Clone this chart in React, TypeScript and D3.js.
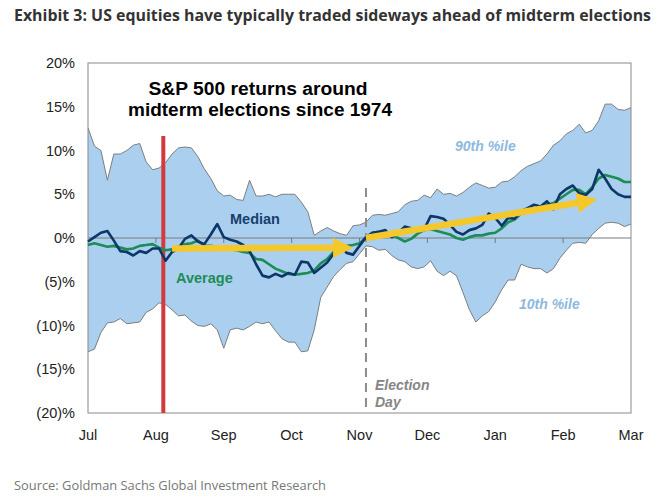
import React from "react";
import * as d3 from "d3";

// Trading-day index (0 = start of July, 21 trading days per month), sampled every 2 days
const STEP_DAYS = 2;
const months = ["Jul", "Aug", "Sep", "Oct", "Nov", "Dec", "Jan", "Feb", "Mar"];
const daysPerMonth = 21;
const yTickValues = [20, 15, 10, 5, 0, -5, -10, -15, -20];

const pct90 = [
  12.6, 10.5, 10.0, 6.6, 9.6, 9.6, 10.0, 10.6, 10.8, 8.7,
  7.8, 8.0, 8.6, 9.6, 10.3, 10.4, 10.3, 9.3, 7.9, 6.8,
  5.4, 4.8, 4.9, 4.4, 4.3, 6.6, 4.8, 4.8, 5.0, 4.7,
  5.0, 5.0, 5.0, 4.1, 3.0, 0.3, 0.8, 1.2, 0.8, 0.5,
  0.3, 1.4, 1.5, 1.8, 2.6, 2.7, 2.6, 2.8, 3.0, 3.8,
  4.2, 4.3, 4.9, 4.6, 5.6, 5.0, 5.1, 4.8, 5.2, 5.8,
  6.3, 6.0, 5.7, 5.8, 6.4, 6.5, 7.0, 7.7, 8.2, 8.5,
  8.8, 9.6, 10.6, 11.1, 11.9, 12.3, 13.0, 12.0, 12.3, 13.4,
  15.3, 15.3, 14.7, 14.6, 14.9,
];

const pct10 = [
  -13.0, -12.7, -10.8, -9.7, -9.6, -9.2, -9.8, -9.7, -9.6, -8.5,
  -8.1, -7.4, -7.6, -8.2, -8.9, -8.8, -9.5, -10.0, -10.1, -9.8,
  -10.5, -12.6, -10.5, -10.3, -10.5, -10.1, -9.6, -9.8, -9.6, -10.6,
  -11.5, -11.9, -11.9, -13.0, -12.9, -10.5, -6.8, -5.6, -4.4, -3.6,
  -2.9, -2.7, -1.8, -0.9, -1.0, -1.4, -1.3, -2.0, -2.5, -2.7,
  -3.3, -3.5, -3.3, -2.6, -3.8, -4.3, -3.8, -4.3, -6.2, -8.2,
  -9.6, -8.9, -8.4, -7.3, -5.9, -4.8, -4.8, -3.0, -3.3, -3.5,
  -3.5, -4.0, -3.5, -2.3, -1.4, -0.6, -0.5, -0.6, 0.4, 1.1,
  1.7, 1.8, 1.7, 1.3, 1.6,
];

const median = [
  -0.4, 0.1, 0.6, 0.8, -0.3, -1.5, -1.6, -2.0, -1.5, -1.7,
  -1.2, -1.2, -2.6, -1.6, -1.2, -0.1, 0.3, -0.4, -0.7, 0.4,
  1.6, 0.1, -0.2, -0.4, -0.8, -1.5, -3.0, -4.3, -4.5, -4.1,
  -4.4, -4.0, -4.2, -2.7, -2.8, -4.0, -3.4, -2.8, -1.8, -0.8,
  -1.7, -1.9, -0.9, 0.1, 0.6, 0.7, 0.9, 0.1, 0.6, 1.3,
  1.1, 0.9, 1.0, 2.5, 2.4, 2.2, 1.5, 0.7, 0.4, 0.9,
  1.1, 1.5, 2.8, 2.3, 1.4, 2.3, 2.2, 3.1, 3.4, 3.8,
  3.6, 4.2, 3.3, 5.0, 5.6, 6.0, 5.1, 4.9, 5.6, 7.8,
  6.8, 5.6, 5.0, 4.7, 4.7,
];

const average = [
  -0.8, -0.6, -0.8, -1.0, -0.9, -1.1, -1.3, -1.2, -0.9, -0.8,
  -0.7, -1.1, -1.4, -1.3, -1.0, -0.7, -0.6, -0.3, -0.9, -0.9,
  -1.0, -1.3, -1.3, -1.4, -1.6, -1.7, -2.4, -2.5, -3.0, -3.5,
  -3.8, -4.1, -4.2, -4.1, -4.0, -3.7, -2.9, -2.4, -1.6, -1.1,
  -0.9, -0.8, -0.6, 0.0, 0.6, 0.7, 0.6, 0.3, 0.0, -0.4,
  -0.1, 0.5, 0.9, 1.0, 0.8, 0.6, 0.4, 0.0, -0.2, 0.1,
  0.3, 0.3, 0.5, 0.6, 1.1, 1.8, 2.1, 2.8, 3.0, 3.2,
  3.4, 3.8, 4.0, 4.5, 5.0, 5.5, 5.5, 5.0, 5.8, 6.8,
  7.2, 7.0, 6.8, 6.4, 6.4,
];

// Annotations (trading-day index, % return)
const augustMarkerDay = 23.3;
const electionDay = 86;
const arrowPre = [[26, -1.2], [82, -1.1]];
const arrowPost = [[86, 0.0], [157.5, 4.4]];

const W = 669;
const H = 499;
const M = { left: 88, right: 631, top: 63, bottom: 413 };

const TEXT_FONT = "'Liberation Sans', Arial, sans-serif";
const TITLE_FONT = "'Open Sans', 'Noto Sans', sans-serif";

function fmtPct(v: number) {
  return v < 0 ? `(${Math.abs(v)})%` : `${v}%`;
}

function Arrow({ pts, x, y }: { pts: number[][]; x: any; y: any }) {
  const x1 = x(pts[0][0]);
  const y1 = y(pts[0][1]);
  const x2 = x(pts[1][0]);
  const y2 = y(pts[1][1]);
  const ang = Math.atan2(y2 - y1, x2 - x1);
  const headLen = 20;
  const headHalf = 10;
  const bx = x2 - headLen * Math.cos(ang);
  const by = y2 - headLen * Math.sin(ang);
  const nx = -Math.sin(ang);
  const ny = Math.cos(ang);
  const head = `M${x2},${y2} L${bx + nx * headHalf},${by + ny * headHalf} L${bx - nx * headHalf},${by - ny * headHalf} Z`;
  return (
    <g>
      <line x1={x1} y1={y1} x2={bx + 2 * Math.cos(ang)} y2={by + 2 * Math.sin(ang)} stroke="#F4C72A" strokeWidth={6.5} />
      <path d={head} fill="#F4C72A" />
    </g>
  );
}

export default function App() {
  const x = d3.scaleLinear().domain([0, daysPerMonth * (months.length - 1)]).range([M.left, M.right]);
  const y = d3.scaleLinear().domain([-20, 20]).range([M.bottom, M.top]);
  const dayOf = (i: number) => i * STEP_DAYS;

  const area = d3
    .area<number>()
    .x((_, i) => x(dayOf(i)))
    .y0((_, i) => y(pct10[i]))
    .y1((d) => y(d));
  const line = d3
    .line<number>()
    .x((_, i) => x(dayOf(i)))
    .y((d) => y(d));

  const monthDays = months.map((_, i) => i * daysPerMonth);

  return (
    <svg
      width={W}
      height={H}
      style={{ position: "absolute", left: 0, top: 0, background: "#fff" }}
    >
      <rect x={0} y={0} width={W} height={H} fill="#fff" />
      <text
        x={14}
        y={21}
        fontFamily={TITLE_FONT}
        fontWeight={700}
        fontSize={15.5}
        fill="#333"
        textLength={637}
        lengthAdjust="spacingAndGlyphs"
      >
        Exhibit 3: US equities have typically traded sideways ahead of midterm elections
      </text>

      {/* band */}
      <path d={area(pct90) || ""} fill="#ABD0EF" />
      <path d={line(pct90) || ""} fill="none" stroke="#7d7d7d" strokeWidth={1} />
      <path d={line(pct10) || ""} fill="none" stroke="#7d7d7d" strokeWidth={1} />

      {/* zero line + ticks */}
      <line x1={M.left} x2={M.right} y1={y(0)} y2={y(0)} stroke="#7a7a7a" strokeWidth={1} />
      {monthDays.slice(1, -1).map((d) => (
        <line key={d} x1={x(d)} x2={x(d)} y1={y(0)} y2={y(0) + 5} stroke="#7a7a7a" strokeWidth={1} />
      ))}

      {/* frame */}
      <rect
        x={M.left}
        y={M.top}
        width={M.right - M.left}
        height={M.bottom - M.top}
        fill="none"
        stroke="#8a8a8a"
        strokeWidth={1}
      />

      {/* August marker */}
      <line
        x1={x(augustMarkerDay)}
        x2={x(augustMarkerDay)}
        y1={136}
        y2={M.bottom}
        stroke="#D23A3E"
        strokeWidth={4}
      />

      {/* election day */}
      <line
        x1={x(electionDay)}
        x2={x(electionDay)}
        y1={188}
        y2={M.bottom}
        stroke="#8c8c8c"
        strokeWidth={2}
        strokeDasharray="9,6"
      />
      <text x={375} y={390} fontFamily={TEXT_FONT} fontStyle="italic" fontWeight={700} fontSize={14} fill="#858585">
        Election
      </text>
      <text x={375} y={407} fontFamily={TEXT_FONT} fontStyle="italic" fontWeight={700} fontSize={14} fill="#858585">
        Day
      </text>

      {/* series */}
      <path d={line(average) || ""} fill="none" stroke="#1E8C56" strokeWidth={2.6} strokeLinejoin="round" />
      <path d={line(median) || ""} fill="none" stroke="#0C3768" strokeWidth={2.6} strokeLinejoin="round" />

      {/* trend arrows */}
      <Arrow pts={arrowPre} x={x} y={y} />
      <Arrow pts={arrowPost} x={x} y={y} />

      {/* labels */}
      <text x={230} y={224} fontFamily={TEXT_FONT} fontWeight={700} fontSize={14.5} fill="#17406F">
        Median
      </text>
      <text x={176} y={283} fontFamily={TEXT_FONT} fontWeight={700} fontSize={14.5} fill="#1E8C56">
        Average
      </text>
      <text x={455} y={151} fontFamily={TEXT_FONT} fontStyle="italic" fontWeight={700} fontSize={14} fill="#8DB9DD">
        90th %ile
      </text>
      <text x={519} y={309} fontFamily={TEXT_FONT} fontStyle="italic" fontWeight={700} fontSize={14} fill="#8DB9DD">
        10th %ile
      </text>

      <text
        x={258}
        y={95}
        textAnchor="middle"
        fontFamily={TEXT_FONT}
        fontWeight={700}
        fontSize={18}
        fill="#000"
        textLength={219}
        lengthAdjust="spacingAndGlyphs"
      >
        S&amp;P 500 returns around
      </text>
      <text
        x={260}
        y={116}
        textAnchor="middle"
        fontFamily={TEXT_FONT}
        fontWeight={700}
        fontSize={18}
        fill="#000"
        textLength={264}
        lengthAdjust="spacingAndGlyphs"
      >
        midterm elections since 1974
      </text>

      {/* y axis labels */}
      {yTickValues.map((v) => (
        <text
          key={v}
          x={75}
          y={y(v) + 5}
          textAnchor="end"
          fontFamily={TEXT_FONT}
          fontSize={14.5}
          fill="#222"
        >
          {fmtPct(v)}
        </text>
      ))}

      {/* x axis labels */}
      {months.map((m, i) => (
        <text
          key={m}
          x={x(monthDays[i])}
          y={440}
          textAnchor="middle"
          fontFamily={TEXT_FONT}
          fontSize={14.5}
          fill="#222"
        >
          {m}
        </text>
      ))}

      <text
        x={14}
        y={490}
        fontFamily={TITLE_FONT}
        fontSize={12.5}
        fill="#777"
        textLength={312}
        lengthAdjust="spacingAndGlyphs"
      >
        Source: Goldman Sachs Global Investment Research
      </text>
    </svg>
  );
}
